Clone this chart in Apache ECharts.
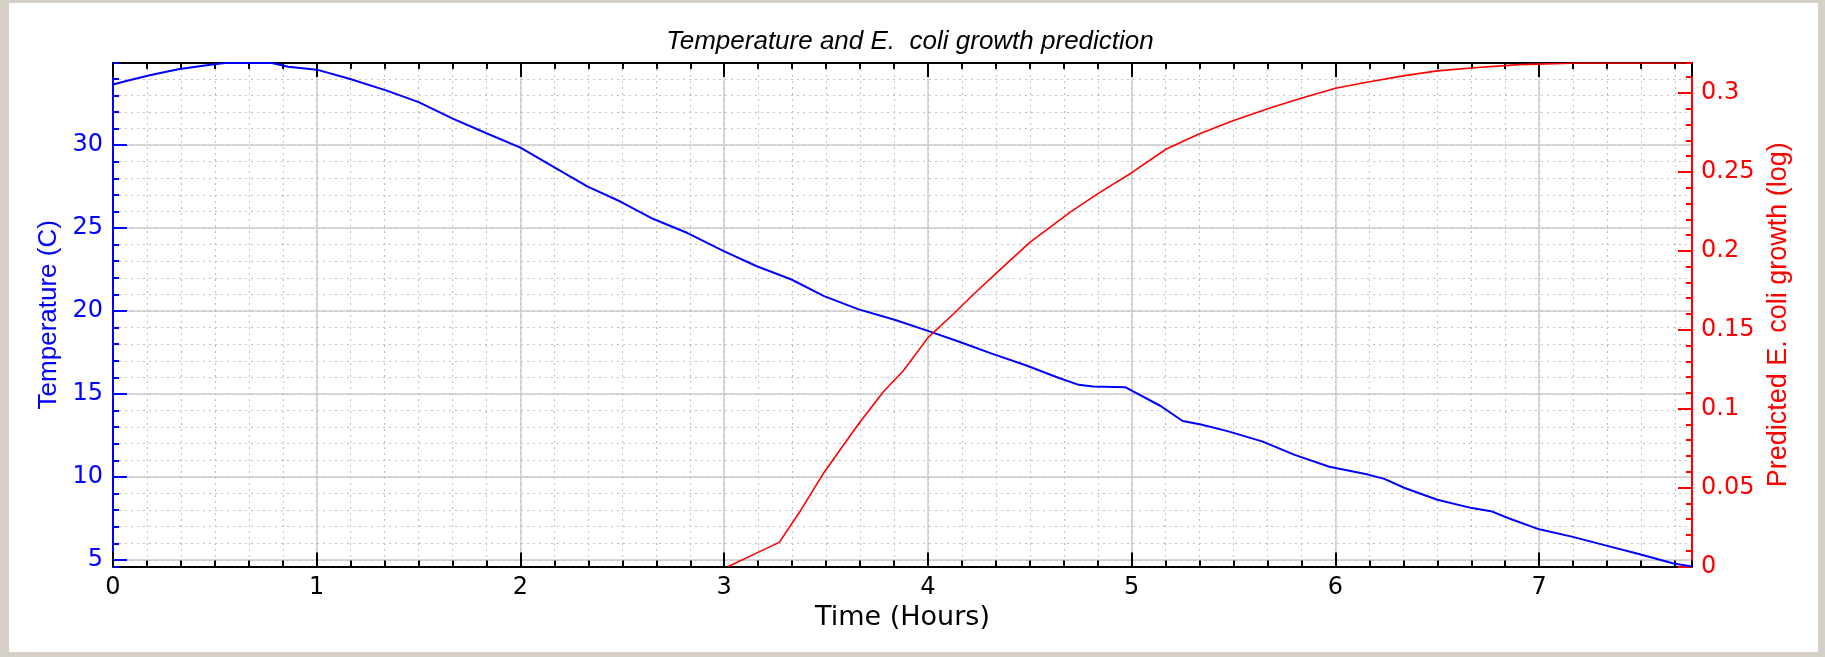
<!DOCTYPE html>
<html><head><meta charset="utf-8">
<script src="https://cdn.jsdelivr.net/npm/echarts@6/dist/echarts.min.js"></script>
<style>
html,body{margin:0;padding:0;background:#d4d0c8;overflow:hidden}
#panel{position:absolute;left:9px;top:3px;width:1809px;height:649px;background:#fff}
#chart{position:absolute;left:0;top:0;width:1825px;height:657px}
</style></head><body>
<div id="panel"></div><div id="chart"></div>
<script>
const titleText = 'Temperature and E.  coli growth prediction';
const xName = 'Time (Hours)';
const leftName = 'Temperature (C)';
const rightName = 'Predicted E. coli growth (log)';

const timeRange = [0, 7.75];
const tempRange = [4.6, 34.95];
const growthRange = [0, 0.319];

const tempTime = [0.00,0.06,0.18,0.32,0.46,0.55,0.78,0.86,1.00,1.16,1.34,1.50,1.67,1.83,2.00,2.16,2.33,2.49,2.65,2.82,3.00,3.16,3.33,3.49,3.66,3.84,4.00,4.15,4.31,4.48,4.64,4.74,4.81,4.97,5.14,5.25,5.34,5.47,5.64,5.80,5.97,6.16,6.24,6.34,6.50,6.67,6.77,6.85,7.00,7.16,7.32,7.48,7.66,7.75];
const temperature = [33.65,33.85,34.21,34.57,34.82,34.95,34.95,34.72,34.55,34.0,33.30,32.59,31.58,30.73,29.85,28.7,27.5,26.6,25.56,24.7,23.6,22.7,21.9,20.9,20.1,19.46,18.8,18.16,17.45,16.73,15.98,15.55,15.45,15.4,14.29,13.37,13.16,12.76,12.14,11.33,10.61,10.14,9.88,9.33,8.62,8.12,7.91,7.51,6.84,6.4,5.89,5.38,4.78,4.6];

const growthTime = [3.02,3.15,3.27,3.37,3.49,3.65,3.78,3.88,4.00,4.13,4.22,4.37,4.50,4.70,4.84,5.00,5.17,5.33,5.51,5.69,5.84,6.00,6.16,6.34,6.50,6.68,6.90,7.20,7.50,7.75];
const growth = [0,0.008,0.0153,0.0345,0.0596,0.0887,0.1106,0.1242,0.145,0.1606,0.172,0.19,0.2054,0.2247,0.2367,0.2495,0.2645,0.274,0.283,0.291,0.297,0.303,0.307,0.311,0.314,0.316,0.318,0.319,0.319,0.319];

const tempSeries = tempTime.map((t, i) => [t, temperature[i]]);
const growthSeries = growthTime.map((t, i) => [t, growth[i]]);

const AX = 'DejaVu Sans';
const gridColor = '#cdcdcd';
const dotStyle = {color: '#c0c0c0', width: 1, type: [2, 4]};

const chart = echarts.init(document.getElementById('chart'), null, {renderer: 'canvas'});
chart.setOption({
  animation: false,
  backgroundColor: 'transparent',
  title: {
    text: titleText, left: 905, top: 24, textAlign: 'center',
    textStyle: {fontFamily: 'Liberation Sans', fontStyle: 'italic', fontWeight: 'normal', fontSize: 26, color: '#000'}
  },
  grid: {left: 113, right: 133, top: 63, bottom: 90.5, containLabel: false},
  xAxis: [
    {type: 'value', position: 'bottom', min: timeRange[0], max: timeRange[1], interval: 1,
     name: xName, nameLocation: 'middle', nameGap: 31,
     nameTextStyle: {fontFamily: AX, fontSize: 27, color: '#000'},
     axisLine: {onZero: false, lineStyle: {color: '#000', width: 2}},
     axisTick: {inside: true, length: 14, lineStyle: {color: '#000', width: 2}},
     axisLabel: {fontFamily: AX, fontSize: 24, color: '#000', margin: 9, showMaxLabel: false},
     splitLine: {show: true, lineStyle: {color: gridColor, width: 1.5}}},
    {type: 'value', position: 'bottom', min: timeRange[0], max: timeRange[1], interval: 1/6,
     axisLine: {show: false, onZero: false},
     axisTick: {inside: true, length: 6, lineStyle: {color: '#000', width: 2}},
     axisLabel: {show: false},
     splitLine: {show: true, lineStyle: dotStyle}},
    {type: 'value', position: 'top', min: timeRange[0], max: timeRange[1], interval: 1,
     axisLine: {onZero: false, lineStyle: {color: '#000', width: 2}},
     axisTick: {inside: true, length: 14, lineStyle: {color: '#000', width: 2}},
     axisLabel: {show: false}, splitLine: {show: false}},
    {type: 'value', position: 'top', min: timeRange[0], max: timeRange[1], interval: 1/6,
     axisLine: {show: false, onZero: false},
     axisTick: {inside: true, length: 6, lineStyle: {color: '#000', width: 2}},
     axisLabel: {show: false}, splitLine: {show: false}}
  ],
  yAxis: [
    {type: 'value', position: 'left', min: tempRange[0], max: tempRange[1], splitNumber: 6,
     name: leftName, nameLocation: 'middle', nameGap: 50,
     nameTextStyle: {fontFamily: 'Liberation Sans', fontSize: 26, color: '#0000ff'},
     axisLine: {onZero: false, lineStyle: {color: '#0000ff', width: 2}},
     axisTick: {inside: true, length: 14, lineStyle: {color: '#0000ff', width: 2}},
     axisLabel: {fontFamily: AX, fontSize: 24, color: '#0000ff', margin: 10, showMinLabel: false, showMaxLabel: false},
     splitLine: {show: true, lineStyle: {color: gridColor, width: 1.5}}},
    {type: 'value', position: 'left', min: tempRange[0], max: tempRange[1], splitNumber: 30,
     axisLine: {show: false, onZero: false},
     axisTick: {inside: true, length: 6, lineStyle: {color: '#0000ff', width: 2}},
     axisLabel: {show: false},
     splitLine: {show: true, lineStyle: dotStyle}},
    {type: 'value', position: 'right', min: growthRange[0], max: growthRange[1], interval: 0.05,
     name: rightName, nameLocation: 'middle', nameGap: 72,
     nameTextStyle: {fontFamily: 'Liberation Sans', fontSize: 27, color: '#ff0000'},
     axisLine: {onZero: false, lineStyle: {color: '#ff0000', width: 2}},
     axisTick: {inside: true, length: 14, lineStyle: {color: '#ff0000', width: 2}},
     axisLabel: {fontFamily: AX, fontSize: 24, color: '#ff0000', margin: 9, showMaxLabel: false},
     splitLine: {show: false}},
    {type: 'value', position: 'right', min: growthRange[0], max: growthRange[1], interval: 0.01,
     axisLine: {show: false, onZero: false},
     axisTick: {inside: true, length: 6, lineStyle: {color: '#ff0000', width: 2}},
     axisLabel: {show: false}, splitLine: {show: false}}
  ],
  series: [
    {type: 'line', name: leftName, xAxisIndex: 0, yAxisIndex: 0, data: tempSeries,
     showSymbol: false, symbol: 'none', lineStyle: {color: '#0000ff', width: 2}, z: 3},
    {type: 'line', name: rightName, xAxisIndex: 0, yAxisIndex: 2, data: growthSeries,
     showSymbol: false, symbol: 'none', lineStyle: {color: '#ff0000', width: 1.6}, z: 4}
  ]
});
</script>
</body></html>
